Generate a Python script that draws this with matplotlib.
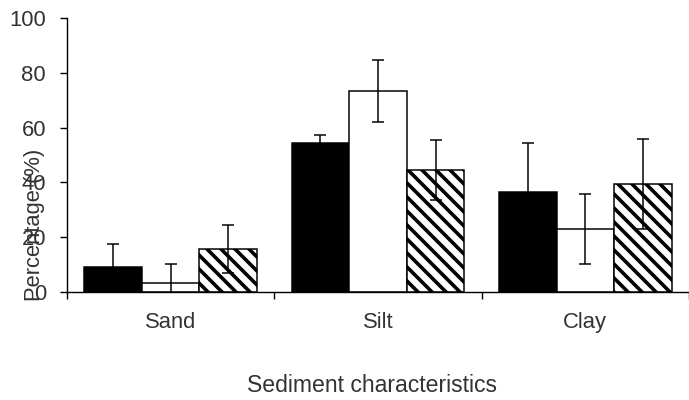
import matplotlib
matplotlib.use("Agg")
import matplotlib.pyplot as plt
import numpy as np

categories = ["Sand", "Silt", "Clay"]
black_vals = [9.2, 54.3, 36.6]
black_err = [8.2, 3.1, 17.7]
white_vals = [3.2, 73.4, 23.0]
white_err = [7.0, 11.3, 12.7]
hatch_vals = [15.6, 44.5, 39.5]
hatch_err = [8.8, 11.1, 16.4]
yticks = [0, 20, 40, 60, 80, 100]

DPI = 84
W, H = 689, 400
def px2pt(p):
    return p * 72.0 / DPI

plt.rcParams['font.family'] = ['Liberation Sans', 'DejaVu Sans']
plt.rcParams['hatch.linewidth'] = px2pt(3.6)
plt.rcParams['hatch.color'] = 'black'

fs = px2pt(22)
tc = '#333333'

fig = plt.figure(figsize=(W / DPI, H / DPI), dpi=DPI)
ax = fig.add_axes([67 / W, (H - 292) / H, (W - 67) / W, (292 - 18) / H])

x = np.arange(len(categories)) + 0.5
w = 0.278
lw = px2pt(1.5)
ekw = dict(ecolor='black', elinewidth=lw, capsize=px2pt(6), capthick=lw)

ax.bar(x - w, black_vals, w, color='black', edgecolor='black', linewidth=lw, zorder=2)
ax.bar(x, white_vals, w, color='white', edgecolor='black', linewidth=lw, zorder=2)
ax.bar(x + w, hatch_vals, w, color='white', edgecolor='black', linewidth=lw, hatch='\\\\', zorder=2)
ax.errorbar(x - w, black_vals, yerr=black_err, fmt='none', zorder=3, **ekw)
ax.errorbar(x, white_vals, yerr=white_err, fmt='none', zorder=3, **ekw)
ax.errorbar(x + w, hatch_vals, yerr=hatch_err, fmt='none', zorder=3, **ekw)

ax.set_xlim(0, (W - 67) / 208.5)
ax.set_ylim(0, 100)
ax.spines['top'].set_visible(False)
ax.spines['right'].set_visible(False)
for s in ['left', 'bottom']:
    ax.spines[s].set_linewidth(px2pt(1.4))
    ax.spines[s].set_color('black')

ax.set_yticks(yticks)
ax.set_yticklabels([str(v) for v in yticks])
ax.tick_params(axis='y', length=px2pt(7), width=px2pt(1.4), pad=px2pt(14),
               labelsize=fs, labelcolor=tc, direction='out')
ax.set_xticks(x)
ax.set_xticklabels(categories)
ax.tick_params(axis='x', which='major', length=0, pad=px2pt(20), labelsize=fs, labelcolor=tc)
ax.set_xticks([0, 1, 2, 3], minor=True)
ax.tick_params(axis='x', which='minor', length=px2pt(7), width=px2pt(1.4), direction='out')

fig.text(372 / W, 1 - 385 / H, "Sediment characteristics", ha='center', va='center',
         fontsize=px2pt(23), color=tc)
fig.text(35 / W, 1 - 225 / H, "Percentage (%)", ha='center', va='center',
         rotation=90, fontsize=fs, color=tc)

fig.savefig("out.png", dpi=DPI)
